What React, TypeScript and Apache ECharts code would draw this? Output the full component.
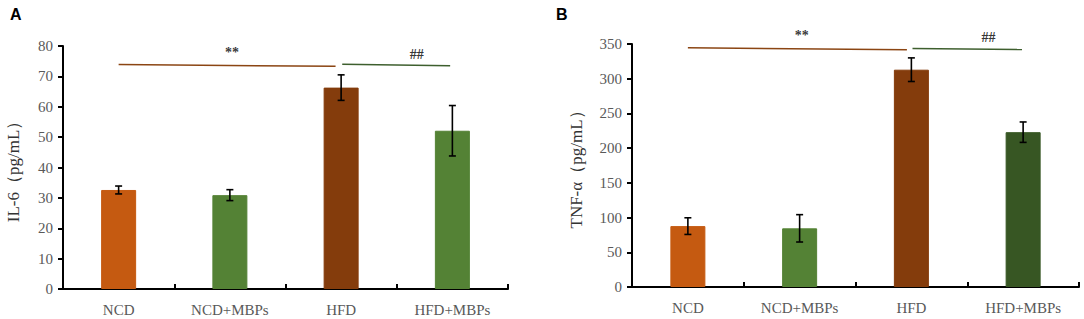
import React, { useEffect, useRef } from "react";
import * as echarts from "echarts";

const categories = ["NCD", "NCD+MBPs", "HFD", "HFD+MBPs"];
const il6Mean = [32.6, 30.9, 66.3, 52.1];
const il6Err = [1.3, 1.8, 4.2, 8.3];
const tnfMean = [87.7, 84.5, 313, 223];
const tnfErr = [12, 19.7, 17, 14.7];
const colorsA = ["#C55A11", "#548235", "#843C0C", "#548235"];
const colorsB = ["#C55A11", "#548235", "#843C0C", "#375623"];
const il6Ticks = { min: 0, max: 80, interval: 10 };
const tnfTicks = { min: 0, max: 350, interval: 50 };
// significance lines: [x position in category units, y value]
const il6SigBrown = [[0, 73.9], [1.95, 73.3]];
const il6SigGreen = [[2.01, 74.0], [2.98, 73.5]];
const tnfSigBrown = [[0, 344.5], [1.96, 341.6]];
const tnfSigGreen = [[2.01, 343.5], [2.99, 342.0]];
const il6Marks = [[1.02, 78.0, "**"], [2.68, 77.3, "##"]];
const tnfMarks = [[1.02, 362, "**"], [2.69, 359.4, "##"]];

const serif = "Liberation Serif";
const gray = "#595959";

function buildGridSeries(
  gi: number,
  mean: number[],
  err: number[],
  colors: string[],
  brown: number[][],
  green: number[][],
  marks: any[][]
) {
  const catX = gi * 2;
  const valX = gi * 2 + 1;
  return [
    {
      type: "bar",
      xAxisIndex: catX,
      yAxisIndex: gi,
      barWidth: 35,
      data: mean.map((v, i) => ({
        value: v,
        itemStyle: { color: colors[i], borderColor: colors[i], borderWidth: 1 },
      })),
      z: 2,
    },
    {
      type: "custom",
      xAxisIndex: valX,
      yAxisIndex: gi,
      z: 5,
      clip: false,
      data: mean.map((v, i) => [i, v - err[i], v + err[i]]),
      renderItem: (params: any, api: any) => {
        const x = api.value(0);
        const lo = api.coord([x, api.value(1)]);
        const hi = api.coord([x, api.value(2)]);
        const cw = 3.5;
        const style = { stroke: "#000", lineWidth: 1.6 };
        return {
          type: "group",
          children: [
            { type: "line", shape: { x1: lo[0], y1: lo[1], x2: hi[0], y2: hi[1] }, style },
            { type: "line", shape: { x1: lo[0] - cw, y1: lo[1], x2: lo[0] + cw, y2: lo[1] }, style },
            { type: "line", shape: { x1: hi[0] - cw, y1: hi[1], x2: hi[0] + cw, y2: hi[1] }, style },
          ],
        };
      },
    },
    {
      type: "line",
      xAxisIndex: valX,
      yAxisIndex: gi,
      data: brown,
      symbol: "none",
      lineStyle: { color: "#8B4513", width: 1.5 },
      z: 4,
    },
    {
      type: "line",
      xAxisIndex: valX,
      yAxisIndex: gi,
      data: green,
      symbol: "none",
      lineStyle: { color: "#3E5F2E", width: 1.5 },
      z: 4,
    },
    {
      type: "scatter",
      xAxisIndex: valX,
      yAxisIndex: gi,
      symbolSize: 0,
      clip: false,
      data: marks.map((m) => ({ value: [m[0], m[1]], name: m[2] })),
      label: {
        show: true,
        position: "inside",
        formatter: (p: any) => p.name,
        color: "#000",
        fontFamily: serif,
        fontWeight: "bold",
        fontSize: 14,
      },
      z: 6,
    },
  ];
}

export default function App() {
  const ref = useRef<HTMLDivElement>(null);
  useEffect(() => {
    if (!ref.current) return;
    const chart = echarts.init(ref.current, undefined, { renderer: "svg" });
    const grids = [
      { left: 63, top: 46, width: 445, height: 243 },
      { left: 632, top: 44, width: 447, height: 243 },
    ];
    const xAxes: any[] = [];
    const yAxes: any[] = [];
    const names = ["IL-6（pg/mL）", "TNF-α（pg/mL）"];
    const ticks = [il6Ticks, tnfTicks];
    const gaps = [41, 47];
    for (let gi = 0; gi < 2; gi++) {
      xAxes.push({
        type: "category",
        gridIndex: gi,
        data: categories,
        axisLine: { onZero: false, lineStyle: { color: "#000", width: 2 } },
        axisTick: { show: true, inside: true, length: 5, lineStyle: { color: "#000", width: 2 } },
        axisLabel: { color: gray, fontFamily: serif, fontSize: 15, margin: 13 },
      });
      xAxes.push({
        type: "value",
        gridIndex: gi,
        min: -0.5,
        max: 3.5,
        show: false,
      });
      yAxes.push({
        type: "value",
        gridIndex: gi,
        min: ticks[gi].min,
        max: ticks[gi].max,
        interval: ticks[gi].interval,
        name: names[gi],
        nameLocation: "middle",
        nameGap: gaps[gi],
        nameTextStyle: { color: "#333333", fontFamily: serif, fontSize: 17 },
        axisLine: { show: true, onZero: false, lineStyle: { color: "#000", width: 2 } },
        axisTick: { show: true, length: 5, lineStyle: { color: "#000", width: 2 } },
        axisLabel: { color: gray, fontFamily: serif, fontSize: 15, margin: 10 },
        splitLine: { show: false },
      });
    }
    chart.setOption({
      animation: false,
      backgroundColor: "#fff",
      grid: grids,
      xAxis: xAxes,
      yAxis: yAxes,
      graphic: [
        { type: "text", left: 10, top: 6, style: { text: "A", font: "bold 16px 'Liberation Sans'", fill: "#000" } },
        { type: "text", left: 556, top: 6, style: { text: "B", font: "bold 16px 'Liberation Sans'", fill: "#000" } },
      ],
      series: [
        ...buildGridSeries(0, il6Mean, il6Err, colorsA, il6SigBrown, il6SigGreen, il6Marks),
        ...buildGridSeries(1, tnfMean, tnfErr, colorsB, tnfSigBrown, tnfSigGreen, tnfMarks),
      ],
    });
    return () => chart.dispose();
  }, []);
  return (
    <div
      ref={ref}
      style={{ position: "fixed", left: 0, top: 0, width: 1084, height: 319, background: "#fff" }}
    />
  );
}
